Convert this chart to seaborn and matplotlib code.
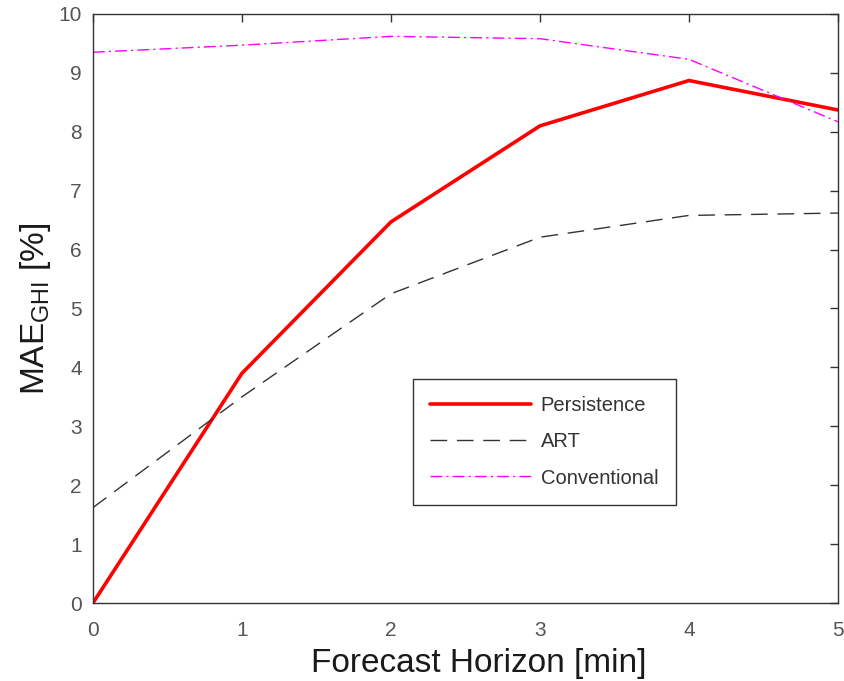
import matplotlib
matplotlib.use("Agg")
import matplotlib.pyplot as plt
import seaborn as sns
import pandas as pd

horizon = [0, 1, 2, 3, 4, 5]
persistence = [0.0, 3.9, 6.47, 8.1, 8.87, 8.37]
art = [1.62, 3.5, 5.25, 6.21, 6.58, 6.62]
conventional = [9.35, 9.47, 9.62, 9.58, 9.23, 8.17]
x_ticks = [0, 1, 2, 3, 4, 5]
y_ticks = list(range(0, 11))

sns.set_theme(style="white")
plt.rcParams['font.family'] = ['Liberation Sans', 'DejaVu Sans']
plt.rcParams['mathtext.fontset'] = 'custom'
plt.rcParams['mathtext.rm'] = 'Liberation Sans'
plt.rcParams['mathtext.it'] = 'Liberation Sans'

fig = plt.figure(figsize=(8.45, 6.81), dpi=100)
ax = fig.add_axes([0.110, 0.1145, 0.8817, 0.865])

df = pd.DataFrame({"h": horizon, "p": persistence, "a": art, "c": conventional})
sns.lineplot(data=df, x="h", y="p", ax=ax, color="#ff0000", lw=2.6, label="Persistence")
sns.lineplot(data=df, x="h", y="a", ax=ax, color="#333333", lw=1.0, label="ART",
             linestyle=(0, (12, 7)))
sns.lineplot(data=df, x="h", y="c", ax=ax, color="#ff00ff", lw=1.0, label="Conventional",
             linestyle=(0, (8.5, 3, 1.5, 3)))

ax.set_xlim(0, 5)
ax.set_ylim(0, 10)
ax.set_xticks(x_ticks)
ax.set_yticks(y_ticks)
ax.tick_params(direction="in", length=6, width=1, top=True, right=True,
               labelsize=15, labelcolor="#555555", color="#333333")
ax.tick_params(axis="x", pad=13)
ax.tick_params(axis="y", pad=8)
for s in ax.spines.values():
    s.set_color("#333333")
    s.set_linewidth(1.0)

ax.set_xlabel("Forecast Horizon [min]", fontsize=24, color="#1a1a1a", labelpad=6)
ax.xaxis.label.set_x(0.518)
ax.set_ylabel(r"MAE$_{\mathrm{GHI}}$ [%]", fontsize=24, color="#1a1a1a", labelpad=4)

leg = ax.legend(loc="upper left", bbox_to_anchor=(0.4295, 0.380), fontsize=14.5,
                frameon=True, fancybox=False, framealpha=1, edgecolor="#333333",
                handlelength=5.0, borderpad=0.85, labelspacing=0.85, handletextpad=0.5,
                borderaxespad=0)
leg.get_frame().set_linewidth(1.0)
for t in leg.get_texts():
    t.set_color("#333333")

fig.savefig("out.png", dpi=100)
